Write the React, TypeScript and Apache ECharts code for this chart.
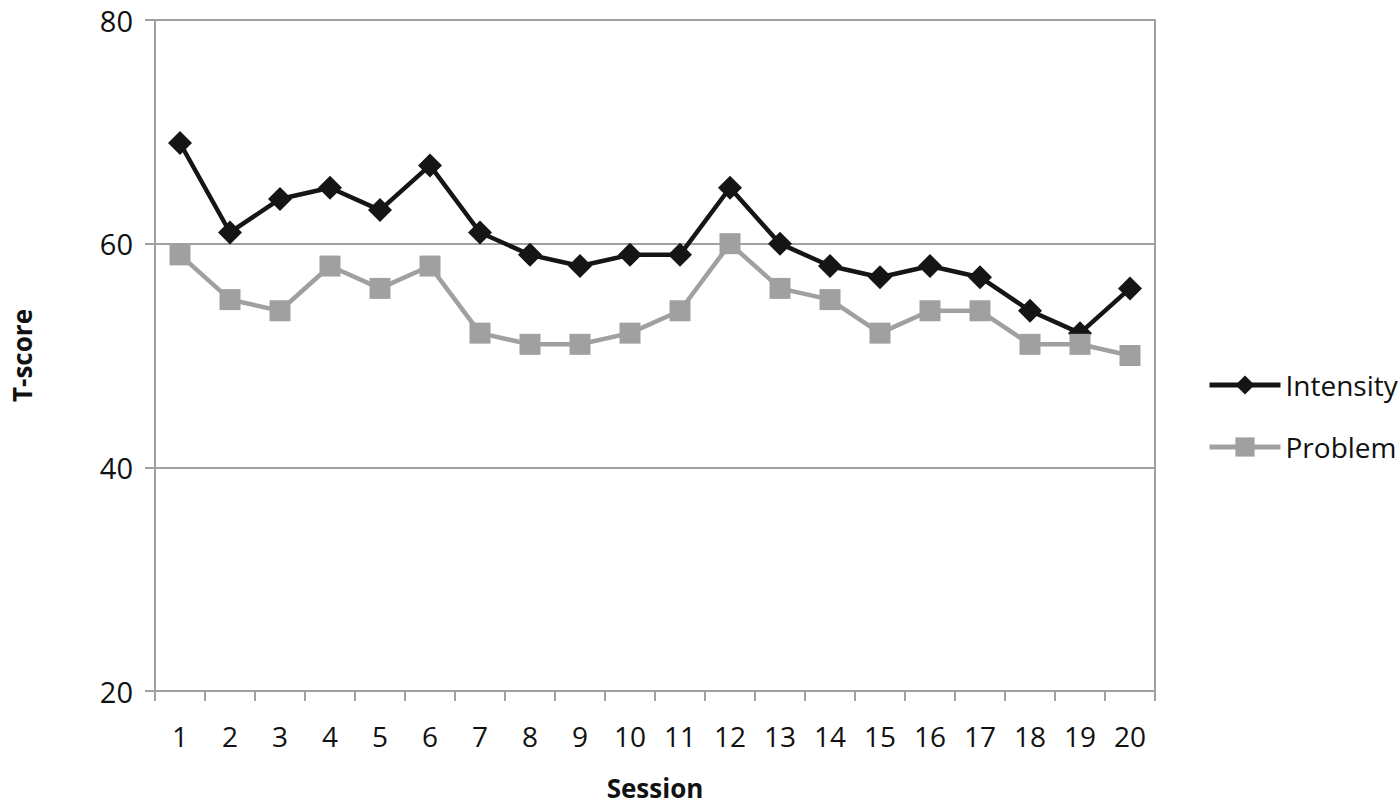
import React, { useEffect, useRef } from "react";
import * as echarts from "echarts";

const sessions = ["1","2","3","4","5","6","7","8","9","10","11","12","13","14","15","16","17","18","19","20"];
const intensity = [69, 61, 64, 65, 63, 67, 61, 59, 58, 59, 59, 65, 60, 58, 57, 58, 57, 54, 52, 56];
const problem = [59, 55, 54, 58, 56, 58, 52, 51, 51, 52, 54, 60, 56, 55, 52, 54, 54, 51, 51, 50];

const FONT = "'Open Sans', 'Liberation Sans', sans-serif";
const GRAY = "#a0a0a0";

export default function App() {
  const ref = useRef<HTMLDivElement>(null);
  useEffect(() => {
    document.body.style.margin = "0";
    const chart = echarts.init(ref.current!, null, { renderer: "svg" });
    chart.setOption({
      animation: false,
      backgroundColor: "#ffffff",
      textStyle: { fontFamily: FONT },
      grid: { left: 155, right: 245, top: 20, bottom: 118, show: true, borderColor: GRAY, borderWidth: 2, backgroundColor: "transparent" },
      legend: {
        orient: "vertical",
        left: 1202,
        top: 366,
        itemWidth: 71,
        itemHeight: 24,
        itemGap: 34,
        lineStyle: { width: 5 },
        textStyle: { fontFamily: FONT, fontSize: 28, color: "#111" },
        data: ["Intensity", "Problem"],
      },
      xAxis: {
        type: "category",
        data: sessions,
        boundaryGap: true,
        name: "Session",
        nameLocation: "middle",
        nameGap: 84,
        nameTextStyle: { fontFamily: FONT, fontSize: 26, fontWeight: "bold", color: "#111" },
        axisLine: { lineStyle: { color: GRAY, width: 2 } },
        axisTick: { show: true, length: 10, lineStyle: { color: GRAY, width: 2 } },
        axisLabel: { fontFamily: FONT, fontSize: 28, color: "#111", margin: 31 },
      },
      yAxis: {
        type: "value",
        min: 20,
        max: 80,
        interval: 20,
        name: "T-score",
        nameLocation: "middle",
        nameGap: 120,
        nameRotate: 90,
        nameTextStyle: { fontFamily: FONT, fontSize: 26, fontWeight: "bold", color: "#111" },
        axisLine: { show: true, lineStyle: { color: GRAY, width: 2 } },
        axisTick: { show: true, length: 10, lineStyle: { color: GRAY, width: 2 } },
        axisLabel: { fontFamily: FONT, fontSize: 29, color: "#111", margin: 22 },
        splitLine: { show: true, lineStyle: { color: GRAY, width: 2 } },
      },
      series: [
        {
          name: "Intensity",
          type: "line",
          data: intensity,
          symbol: "diamond",
          symbolSize: 24,
          lineStyle: { color: "#151515", width: 4.5 },
          itemStyle: { color: "#151515" },
        },
        {
          name: "Problem",
          type: "line",
          data: problem,
          symbol: "rect",
          symbolSize: 21,
          lineStyle: { color: GRAY, width: 4.5 },
          itemStyle: { color: GRAY },
        },
      ],
    });
    return () => chart.dispose();
  }, []);
  return <div ref={ref} style={{ width: 1400, height: 809 }} />;
}
